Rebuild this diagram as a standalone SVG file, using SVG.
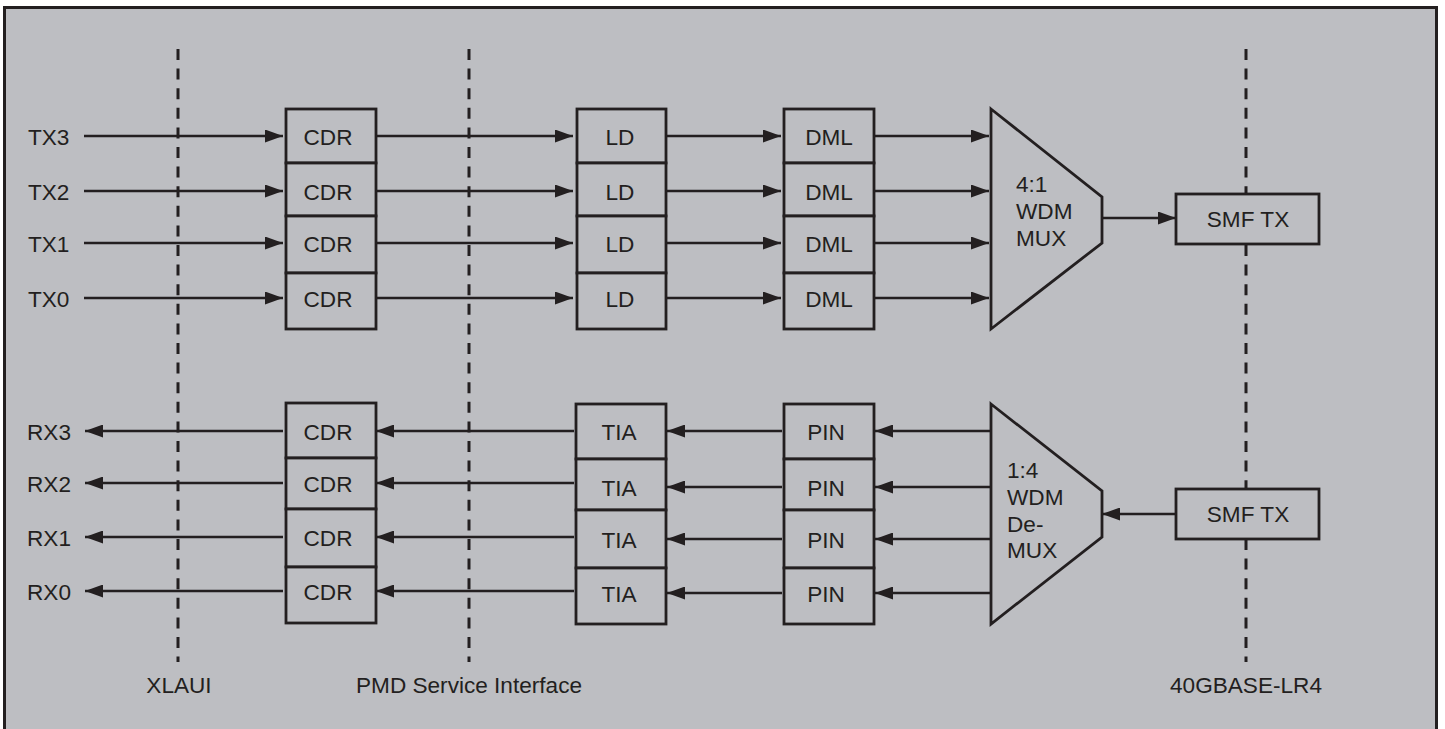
<svg xmlns="http://www.w3.org/2000/svg" width="1445" height="729" viewBox="0 0 1445 729">
<style>
.bg{fill:#bdbec2;stroke:#231f20;stroke-width:3}
.box{fill:#bdbec2;stroke:#231f20;stroke-width:2.8}
.dash{stroke:#231f20;stroke-width:3;stroke-dasharray:11 8.6;fill:none}
.ln{stroke:#231f20;stroke-width:2.6;fill:none;marker-end:url(#ah)}
text{font-family:"Liberation Sans",Arial,Helvetica,sans-serif;font-size:22.6px;fill:#231f20}
.c{text-anchor:middle}
</style>
<defs>
<marker id="ah" markerUnits="userSpaceOnUse" markerWidth="18" markerHeight="13" refX="18" refY="6.5" orient="auto">
<path d="M0,0 L18,6.5 L0,13 z" fill="#231f20"/>
</marker>
</defs>
<rect class="bg" x="4.5" y="7.5" width="1432" height="730"/>
<g id="interfaces">
<line class="dash" x1="178" y1="49" x2="178" y2="662"/>
<line class="dash" x1="469" y1="49" x2="469" y2="662"/>
<line class="dash" x1="1246" y1="49" x2="1246" y2="662"/>
<text class="c" x="179" y="693">XLAUI</text>
<text class="c" x="469" y="693">PMD Service Interface</text>
<text class="c" x="1246" y="693">40GBASE-LR4</text>
</g>
<g id="connectors">
<line class="ln" x1="84" y1="136" x2="283" y2="136"/>
<line class="ln" x1="84" y1="191" x2="283" y2="191"/>
<line class="ln" x1="84" y1="243" x2="283" y2="243"/>
<line class="ln" x1="84" y1="298" x2="283" y2="298"/>
<line class="ln" x1="376" y1="136" x2="573" y2="136"/>
<line class="ln" x1="376" y1="191" x2="573" y2="191"/>
<line class="ln" x1="376" y1="243" x2="573" y2="243"/>
<line class="ln" x1="376" y1="298" x2="573" y2="298"/>
<line class="ln" x1="666" y1="136" x2="781" y2="136"/>
<line class="ln" x1="666" y1="191" x2="781" y2="191"/>
<line class="ln" x1="666" y1="243" x2="781" y2="243"/>
<line class="ln" x1="666" y1="298" x2="781" y2="298"/>
<line class="ln" x1="874" y1="136" x2="989" y2="136"/>
<line class="ln" x1="874" y1="191" x2="989" y2="191"/>
<line class="ln" x1="874" y1="243" x2="989" y2="243"/>
<line class="ln" x1="874" y1="298" x2="989" y2="298"/>
<line class="ln" x1="1102" y1="218" x2="1176" y2="218"/>
<line class="ln" x1="1176" y1="514" x2="1102" y2="514"/>
<line class="ln" x1="990" y1="431" x2="875" y2="431"/>
<line class="ln" x1="990" y1="487" x2="875" y2="487"/>
<line class="ln" x1="990" y1="539" x2="875" y2="539"/>
<line class="ln" x1="990" y1="593" x2="875" y2="593"/>
<line class="ln" x1="782" y1="431" x2="667" y2="431"/>
<line class="ln" x1="782" y1="487" x2="667" y2="487"/>
<line class="ln" x1="782" y1="539" x2="667" y2="539"/>
<line class="ln" x1="782" y1="593" x2="667" y2="593"/>
<line class="ln" x1="574" y1="431" x2="376" y2="431"/>
<line class="ln" x1="574" y1="483" x2="376" y2="483"/>
<line class="ln" x1="574" y1="537" x2="376" y2="537"/>
<line class="ln" x1="574" y1="591" x2="376" y2="591"/>
<line class="ln" x1="283" y1="431" x2="85" y2="431"/>
<line class="ln" x1="283" y1="483" x2="85" y2="483"/>
<line class="ln" x1="283" y1="537" x2="85" y2="537"/>
<line class="ln" x1="283" y1="591" x2="85" y2="591"/>
</g>
<g id="tx-labels">
<text x="28" y="145">TX3</text>
<text x="28" y="200">TX2</text>
<text x="28" y="252">TX1</text>
<text x="28" y="307">TX0</text>
</g>
<g id="rx-labels">
<text x="27" y="440">RX3</text>
<text x="27" y="492">RX2</text>
<text x="27" y="546">RX1</text>
<text x="27" y="600">RX0</text>
</g>
<g id="tx-cdr">
<rect class="box" x="286" y="109" width="90" height="54"/>
<rect class="box" x="286" y="163" width="90" height="53"/>
<rect class="box" x="286" y="216" width="90" height="57"/>
<rect class="box" x="286" y="273" width="90" height="56"/>
<text class="c" x="328" y="145">CDR</text>
<text class="c" x="328" y="200">CDR</text>
<text class="c" x="328" y="252">CDR</text>
<text class="c" x="328" y="307">CDR</text>
</g>
<g id="tx-ld">
<rect class="box" x="577" y="109" width="89" height="54"/>
<rect class="box" x="577" y="163" width="89" height="53"/>
<rect class="box" x="577" y="216" width="89" height="57"/>
<rect class="box" x="577" y="273" width="89" height="56"/>
<text class="c" x="620" y="145">LD</text>
<text class="c" x="620" y="200">LD</text>
<text class="c" x="620" y="252">LD</text>
<text class="c" x="620" y="307">LD</text>
</g>
<g id="tx-dml">
<rect class="box" x="784" y="109" width="90" height="54"/>
<rect class="box" x="784" y="163" width="90" height="53"/>
<rect class="box" x="784" y="216" width="90" height="57"/>
<rect class="box" x="784" y="273" width="90" height="56"/>
<text class="c" x="829" y="145">DML</text>
<text class="c" x="829" y="200">DML</text>
<text class="c" x="829" y="252">DML</text>
<text class="c" x="829" y="307">DML</text>
</g>
<g id="mux">
<polygon class="box" points="991,109 1102,197 1102,243 991,329"/>
<text x="1016" y="192">4:1</text>
<text x="1016" y="219">WDM</text>
<text x="1016" y="246">MUX</text>
</g>
<g id="smf-tx-top">
<rect class="box" x="1176" y="194" width="143" height="50"/>
<text class="c" x="1248" y="227">SMF TX</text>
</g>
<g id="rx-cdr">
<rect class="box" x="286" y="403" width="90" height="55"/>
<rect class="box" x="286" y="458" width="90" height="51"/>
<rect class="box" x="286" y="509" width="90" height="58"/>
<rect class="box" x="286" y="567" width="90" height="56"/>
<text class="c" x="328" y="440">CDR</text>
<text class="c" x="328" y="492">CDR</text>
<text class="c" x="328" y="546">CDR</text>
<text class="c" x="328" y="600">CDR</text>
</g>
<g id="rx-tia">
<rect class="box" x="576" y="404" width="90" height="55"/>
<rect class="box" x="576" y="459" width="90" height="51"/>
<rect class="box" x="576" y="510" width="90" height="58"/>
<rect class="box" x="576" y="568" width="90" height="56"/>
<text class="c" x="619" y="440">TIA</text>
<text class="c" x="619" y="496">TIA</text>
<text class="c" x="619" y="548">TIA</text>
<text class="c" x="619" y="602">TIA</text>
</g>
<g id="rx-pin">
<rect class="box" x="784" y="404" width="90" height="55"/>
<rect class="box" x="784" y="459" width="90" height="51"/>
<rect class="box" x="784" y="510" width="90" height="58"/>
<rect class="box" x="784" y="568" width="90" height="56"/>
<text class="c" x="826" y="440">PIN</text>
<text class="c" x="826" y="496">PIN</text>
<text class="c" x="826" y="548">PIN</text>
<text class="c" x="826" y="602">PIN</text>
</g>
<g id="demux">
<polygon class="box" points="991,404 1102,491 1102,537 991,624"/>
<text x="1007" y="478">1:4</text>
<text x="1007" y="505">WDM</text>
<text x="1007" y="532">De-</text>
<text x="1007" y="558">MUX</text>
</g>
<g id="smf-tx-bottom">
<rect class="box" x="1176" y="489" width="143" height="50"/>
<text class="c" x="1248" y="522">SMF TX</text>
</g>
</svg>
